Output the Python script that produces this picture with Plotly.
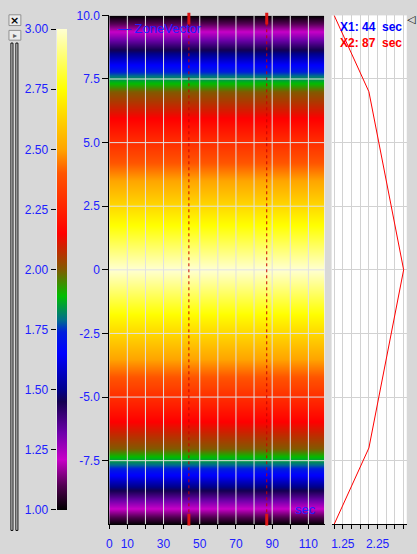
import plotly.graph_objects as go

# ---------------- data ----------------
depth = [-10, -7, 0, 7, 10]          # y positions of the zone vector
zone = [1.0, 2.0, 3.0, 2.0, 1.0]      # zone vector values
time = [0, 119]                       # time columns (sec)
x1_cursor = 44
x2_cursor = 87

x_tickvals = [0, 10, 20, 30, 40, 50, 60, 70, 80, 90, 100, 110]
x_ticktext = ["0", "10", "", "30", "", "50", "", "70", "", "90", "", "110"]
y_tickvals = [10, 7.5, 5, 2.5, 0, -2.5, -5, -7.5]
y_ticktext = ["10.0", "7.5", "5.0", "2.5", "0", "-2.5", "-5.0", "-7.5"]
p_tickvals = [1.0, 1.25, 1.5, 1.75, 2.0, 2.25, 2.5, 2.75, 3.0]
p_ticktext = ["", "1.25", "", "", "", "2.25", "", "", ""]
cb_tickvals = [1.0, 1.25, 1.5, 1.75, 2.0, 2.25, 2.5, 2.75, 3.0]
cb_ticktext = ["1.00", "1.25", "1.50", "1.75", "2.00", "2.25", "2.50", "2.75", "3.00"]

# ---------------- style ----------------
W, H = 417, 554
def px(x):
    return x / W
def py(y):
    return 1 - y / H

BG = "#d8d8d8"
BLUE = "#2020ff"
FONT = "Arial, Liberation Sans, sans-serif"

colorscale = [
    [0.000, "rgb(0,0,0)"],
    [0.050, "rgb(80,0,80)"],
    [0.105, "rgb(200,0,200)"],
    [0.160, "rgb(110,0,170)"],
    [0.225, "rgb(20,0,80)"],
    [0.250, "rgb(0,0,140)"],
    [0.325, "rgb(0,0,255)"],
    [0.370, "rgb(0,30,220)"],
    [0.395, "rgb(0,110,140)"],
    [0.445, "rgb(0,190,0)"],
    [0.500, "rgb(130,90,0)"],
    [0.550, "rgb(210,30,0)"],
    [0.575, "rgb(255,0,0)"],
    [0.700, "rgb(255,85,0)"],
    [0.750, "rgb(255,165,0)"],
    [0.875, "rgb(255,255,0)"],
    [1.000, "rgb(255,255,210)"],
]

z = [[v for _ in time] for v in zone]

fig = go.Figure()

fig.add_trace(go.Heatmap(
    x=time, y=depth, z=z, zmin=1, zmax=3, zsmooth="best",
    colorscale=colorscale, xaxis="x", yaxis="y", hoverinfo="skip",
    colorbar=dict(
        x=px(54), xanchor="left", xpad=0, thickness=10, thicknessmode="pixels",
        y=py(22.7), yanchor="top", ypad=0, len=(516 - 22.7) / H, lenmode="fraction",
        outlinewidth=0, showticklabels=False, ticks="",
    ),
))

fig.add_trace(go.Scatter(
    x=zone, y=depth, mode="lines", line=dict(color="red", width=1),
    xaxis="x2", yaxis="y2", hoverinfo="skip", showlegend=False,
))

# invisible trace for colorbar tick axis
fig.add_trace(go.Scatter(x=[None], y=[None], xaxis="x3", yaxis="y3",
                         showlegend=False, hoverinfo="skip"))

tickfont = dict(family=FONT, size=12, color=BLUE)

shapes = []
# gridlines over the heatmap
for xv in x_tickvals[1:]:
    shapes.append(dict(type="line", xref="x", yref="y", x0=xv, x1=xv, y0=-10, y1=10,
                       line=dict(color="rgb(225,225,225)", width=1), layer="above"))
for yv in y_tickvals:
    shapes.append(dict(type="line", xref="x", yref="y", x0=time[0], x1=time[-1], y0=yv, y1=yv,
                       line=dict(color="rgb(225,225,225)", width=1), layer="above"))
# cursors
for xc in (x1_cursor, x2_cursor):
    shapes.append(dict(type="line", xref="x", yref="y", x0=xc, x1=xc, y0=-10, y1=10,
                       line=dict(color="rgb(200,0,0)", width=1, dash="3px,3px"), layer="above"))
    shapes.append(dict(type="line", xref="x", yref="paper", x0=xc, x1=xc, y0=py(6), y1=py(18),
                       line=dict(color="rgb(220,20,20)", width=3), layer="above"))
    shapes.append(dict(type="line", xref="x", yref="paper", x0=xc, x1=xc, y0=py(520), y1=py(532),
                       line=dict(color="rgb(220,20,20)", width=3), layer="above"))
# scrollbar decoration on the left
for (a, b) in ((8, 10), (13, 15)):
    shapes.append(dict(type="rect", xref="paper", yref="paper", x0=px(a), x1=px(b),
                       y0=py(537), y1=py(37), fillcolor="white",
                       line=dict(color="black", width=1)))
for (t0, t1) in ((8, 19), (24, 34)):
    shapes.append(dict(type="rect", xref="paper", yref="paper", x0=px(6), x1=px(18),
                       y0=py(t1), y1=py(t0), fillcolor="#ececec",
                       line=dict(color="#909090", width=1)))

annotations = [
    dict(text="— ZoneVector", xref="paper", yref="paper", x=px(114), y=py(22),
         xanchor="left", yanchor="middle", showarrow=False,
         font=dict(family=FONT, size=13, color=BLUE)),
    dict(text="sec", xref="paper", yref="paper", x=px(304.5), y=py(516),
         xanchor="center", yanchor="middle", showarrow=False,
         font=dict(family=FONT, size=13, color=BLUE)),
    dict(text=f"<b>X1: {x1_cursor}&nbsp; sec</b>", xref="paper", yref="paper", x=px(337), y=py(21),
         xanchor="left", yanchor="middle", showarrow=False,
         font=dict(family=FONT, size=12, color="blue")),
    dict(text=f"<b>X2: {x2_cursor}&nbsp; sec</b>", xref="paper", yref="paper", x=px(337), y=py(37),
         xanchor="left", yanchor="middle", showarrow=False,
         font=dict(family=FONT, size=12, color="red")),
    dict(text="◁", xref="paper", yref="paper", x=px(411), y=py(13),
         xanchor="center", yanchor="middle", showarrow=False,
         font=dict(family="DejaVu Sans", size=11, color="black")),
    dict(text="<b>×</b>", xref="paper", yref="paper", x=px(12), y=py(14),
         xanchor="center", yanchor="middle", showarrow=False,
         font=dict(family="DejaVu Sans", size=11, color="black")),
    dict(text="▸", xref="paper", yref="paper", x=px(12), y=py(29),
         xanchor="center", yanchor="middle", showarrow=False,
         font=dict(family="DejaVu Sans", size=8, color="#606060")),
]

fig.update_layout(
    width=W, height=H, margin=dict(l=0, r=0, t=0, b=0),
    paper_bgcolor=BG, plot_bgcolor="white", showlegend=False,
    xaxis=dict(domain=[px(107), px(324)], range=[time[0], time[-1]], anchor="y",
               tickvals=x_tickvals, ticktext=x_ticktext, ticks="outside", ticklen=4,
               tickcolor="black", showline=True, linecolor="black", linewidth=1,
               showgrid=False, zeroline=False, tickfont=tickfont, ticklabelstandoff=4),
    yaxis=dict(domain=[py(530.7), py(8.6)], range=[-10, 10], anchor="x",
               tickvals=y_tickvals, ticktext=y_ticktext, ticks="outside", ticklen=6,
               tickcolor="black", showline=True, linecolor="black", linewidth=1,
               showgrid=False, zeroline=False, tickfont=tickfont),
    xaxis2=dict(domain=[px(331), px(406.7)], range=[0.927, 3.09], anchor="y2",
                tickvals=p_tickvals, ticktext=p_ticktext, ticks="outside", ticklen=4,
                tickcolor="black", showline=True, linecolor="black", linewidth=1,
                showgrid=True, gridcolor="rgb(210,210,210)", gridwidth=1,
                zeroline=False, tickfont=tickfont, ticklabelstandoff=4),
    yaxis2=dict(domain=[py(530.7), py(8.6)], range=[-10, 10], anchor="x2",
                tickvals=y_tickvals, showticklabels=False, ticks="",
                showgrid=True, gridcolor="rgb(210,210,210)", gridwidth=1,
                showline=False, zeroline=False),
    xaxis3=dict(domain=[px(54), px(64)], range=[0, 1], anchor="y3", visible=False),
    yaxis3=dict(domain=[py(516), py(22.7)], range=[1, 3], anchor="x3", side="left",
                tickvals=cb_tickvals, ticktext=cb_ticktext, ticks="outside", ticklen=5,
                tickcolor="black", showline=False, showgrid=False, zeroline=False,
                tickfont=tickfont),
    shapes=shapes, annotations=annotations,
)

fig.write_html(
    "out.html",
    config={"displayModeBar": False},
    post_script="document.body.style.margin='0';document.body.style.padding='0';"
                "document.documentElement.style.overflow='hidden';",
)
